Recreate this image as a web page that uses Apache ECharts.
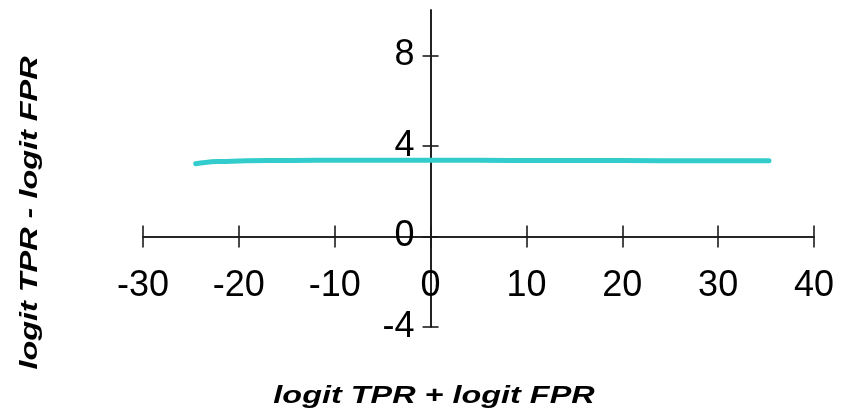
<!DOCTYPE html>
<html>
<head>
<meta charset="utf-8">
<script src="https://cdn.jsdelivr.net/npm/echarts@6/dist/echarts.min.js"></script>
<style>
  html, body { margin: 0; padding: 0; background: #fff; }
  #chart { width: 854px; height: 417px; }
</style>
</head>
<body>
<div id="chart"></div>
<script>
// Axis ranges and tick positions
const xMin = -30, xMax = 40;
const yMin = -4, yMax = 10;
const xTicks = [-30, -20, -10, 0, 10, 20, 30, 40];
const yTicks = [-4, 0, 4, 8];

// Curve: logit TPR - logit FPR against logit TPR + logit FPR
const curveX = [-24.5, -23.5, -22, -20, -17, -12, -5, 0, 5, 12, 20, 28, 35.3];
const curveY = [3.21, 3.27, 3.31, 3.33, 3.35, 3.36, 3.36, 3.36, 3.36, 3.35, 3.35, 3.34, 3.34];

const xTitle = 'logit TPR + logit FPR';
const yTitle = 'logit TPR - logit FPR';

// Plot area
const grid = { left: 143, right: 40, top: 10, bottom: 90 };
const plotW = 854 - grid.left - grid.right;
const plotH = 417 - grid.top - grid.bottom;
// Distance of the zero lines from the plot edges, so the axes cross at the origin
const zeroFromLeft = plotW * (0 - xMin) / (xMax - xMin);
const zeroFromBottom = plotH * (0 - yMin) / (yMax - yMin);

const ink = '#1a1a1a';
const axisLineStyle = { color: ink, width: 1.6 };
const labelFont = { color: '#000', fontFamily: 'Liberation Sans, Arial, sans-serif', fontSize: 36 };

const chart = echarts.init(document.getElementById('chart'), null, { renderer: 'canvas' });

function xAxisDef(position, offset, withLabels) {
  return {
    type: 'value', min: xMin, max: xMax, position: position, offset: offset,
    axisLine: { show: true, onZero: false, lineStyle: axisLineStyle },
    axisTick: { show: true, customValues: xTicks, length: 11, lineStyle: axisLineStyle },
    axisLabel: Object.assign({ show: withLabels, customValues: xTicks, margin: 32 }, labelFont),
    splitLine: { show: false }
  };
}
function yAxisDef(position, offset, withLabels) {
  return {
    type: 'value', min: yMin, max: yMax, position: position, offset: offset,
    axisLine: { show: true, onZero: false, lineStyle: axisLineStyle },
    axisTick: { show: true, customValues: yTicks, length: 8, lineStyle: axisLineStyle },
    axisLabel: Object.assign({ show: withLabels, customValues: yTicks, margin: 16 }, labelFont),
    splitLine: { show: false }
  };
}

const titleFont = 'italic bold 24px "Liberation Sans", Arial, sans-serif';

chart.setOption({
  animation: false,
  backgroundColor: '#fff',
  grid: Object.assign({ containLabel: false }, grid),
  xAxis: [
    xAxisDef('bottom', -zeroFromBottom, true),
    xAxisDef('top', -(plotH - zeroFromBottom), false)
  ],
  yAxis: [
    yAxisDef('left', -zeroFromLeft, true),
    yAxisDef('right', -(plotW - zeroFromLeft), false)
  ],
  series: [{
    type: 'line',
    xAxisIndex: 0, yAxisIndex: 0,
    data: curveX.map((x, i) => [x, curveY[i]]),
    smooth: true,
    showSymbol: false,
    lineStyle: { color: '#33cccc', width: 5, cap: 'round', join: 'round' }
  }],
  graphic: [
    {
      type: 'text', x: 434, y: 396, scaleX: 1.35,
      style: { text: xTitle, font: titleFont, fill: '#000', align: 'center', verticalAlign: 'middle' }
    },
    {
      type: 'text', x: 30, y: 213, rotation: Math.PI / 2, scaleX: 1.35,
      style: { text: yTitle, font: titleFont, fill: '#000', align: 'center', verticalAlign: 'middle' }
    }
  ]
});
</script>
</body>
</html>
